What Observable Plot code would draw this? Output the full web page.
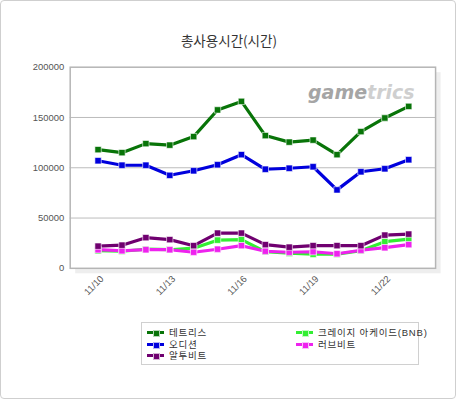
<!DOCTYPE html>
<html><head><meta charset="utf-8">
<script src="https://cdn.jsdelivr.net/npm/d3@7"></script>
<script src="https://cdn.jsdelivr.net/npm/@observablehq/plot@0.6"></script>
<style>
body{margin:0;background:#fff;}
#wrap{position:relative;width:454px;height:397px;border:1px solid #cfcfcf;border-radius:4px;overflow:hidden;font-family:"Noto Sans CJK KR",sans-serif;}
#title{position:absolute;left:0;top:29px;width:456px;text-align:center;font-size:13.5px;color:#333;}
#chart{position:absolute;left:-1px;top:-1px;}
#logo{position:absolute;left:307px;top:80px;font-family:"DejaVu Sans",sans-serif;font-style:italic;font-weight:bold;font-size:19px;letter-spacing:0px;}
#legend{position:absolute;left:140px;top:321px;width:276px;height:41px;border:1px solid #d0d0d0;font-family:"Liberation Sans","Noto Sans CJK KR",sans-serif;font-size:9.5px;letter-spacing:0.8px;color:#333;}
.item{position:absolute;display:flex;align-items:center;height:11px;line-height:11px;white-space:nowrap;}
.sw{position:relative;width:17px;height:11px;margin-right:5px;flex:none;}
.sw .ln{position:absolute;left:0;top:4px;width:17px;height:3px;}
.sw .sq{position:absolute;left:6px;top:3px;width:5px;height:5px;border:0.5px solid rgba(255,255,255,0.7);}
</style></head>
<body>
<div id="wrap">
<div id="title">총사용시간(시간)</div>
<div id="chart"></div>
<div id="logo"><span style="color:#a5a5a5">game</span><span style="color:#cfcfcf">trics</span></div>
<div id="legend"></div>
</div>
<script>
const dates = ["11/10","11/11","11/12","11/13","11/14","11/15","11/16","11/17","11/18","11/19","11/20","11/21","11/22","11/23"];
const tickLabels = ["11/10","11/13","11/16","11/19","11/22"];
const seriesNames = ["테트리스","오디션","알투비트","크레이지 아케이드(BNB)","러브비트"];
const seriesColors = ["#087408","#0000dd","#700070","#33ee33","#ee22ee"];
const tetris = [118000,115000,124000,122500,131000,157500,166000,132000,125500,127500,113000,136000,149500,161000];
const audition = [107000,102500,102500,92500,97000,103000,113000,98500,99500,101000,78000,96000,99000,108000];
const r2beat = [22000,23000,30500,28500,22500,35000,35000,23500,21000,22500,22500,22500,33000,34000];
const crazy = [17500,17000,19000,18500,20000,28000,28500,16500,15000,14000,14000,17500,26500,29000];
const lovebeat = [18500,17500,18500,18500,16000,19000,22500,17000,16000,16500,14500,18000,20500,23500];
const yTicks = [0,50000,100000,150000,200000];

const seriesValues = [tetris,audition,r2beat,crazy,lovebeat];
const drawOrder = [0,1,3,4,2];
const data = [];
for (const i of drawOrder) dates.forEach((d,j)=>data.push({series:seriesNames[i],date:d,value:seriesValues[i][j]}));

const colorScale = {domain:seriesNames, range:seriesColors};

const chart = Plot.plot({
  width:457, height:310,
  marginLeft:70, marginRight:20, marginTop:67, marginBottom:41,
  style:{fontFamily:"Liberation Sans, Arial, sans-serif", fontSize:"9.5px", color:"#555", background:"transparent"},
  x:{type:"point", domain:dates, padding:1},
  y:{domain:[0,200000]},
  color:colorScale,
  marks:[
    Plot.frame({fill:"#eeeeee", dx:5, dy:5}),
    Plot.frame({fill:"white"}),
    Plot.ruleY(yTicks.slice(1,-1), {stroke:"#bbbbbb", strokeWidth:1}),
    Plot.frame({stroke:"#b5b5b5", strokeWidth:1.5}),
    Plot.axisY({ticks:yTicks, tickSize:0, tickPadding:6, tickFormat:d=>String(d), label:null, fill:"#555"}),
    Plot.axisX({ticks:tickLabels, tickSize:0, tickPadding:9, tickRotate:-45, label:null, fill:"#555", dx:4}),
    Plot.line(data, {x:"date", y:"value", z:"series", stroke:"series", strokeWidth:3.2, strokeLinejoin:"round"}),
    Plot.dot(data, {x:"date", y:"value", fill:"series", symbol:"square", r:3.6, stroke:"white", strokeOpacity:0.6, strokeWidth:1})
  ]
});
document.getElementById("chart").appendChild(chart);

const legend = document.getElementById("legend");
const pos = [[5,4],[5,16],[5,27],[154,4],[154,16]];
seriesNames.forEach((n,i)=>{
  const it = document.createElement("div");
  it.className="item";
  it.style.left=pos[i][0]+"px"; it.style.top=pos[i][1]+"px";
  it.innerHTML = `<div class="sw"><div class="ln" style="background:${seriesColors[i]}"></div><div class="sq" style="background:${seriesColors[i]}"></div></div><span>${n}</span>`;
  legend.appendChild(it);
});
</script>
</body></html>
